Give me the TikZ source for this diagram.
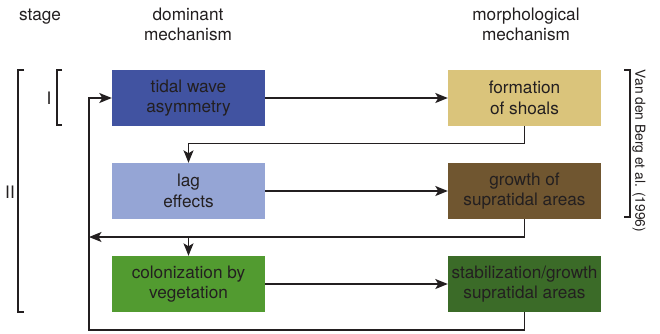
\documentclass[tikz,border=0pt]{standalone}
\usepackage{fontspec}
\setmainfont{TeX Gyre Heros}
\usetikzlibrary{arrows.meta}
\definecolor{txt}{HTML}{231F20}
\definecolor{cTidal}{HTML}{4153A1}
\definecolor{cLag}{HTML}{95A5D5}
\definecolor{cForm}{HTML}{DAC47B}
\definecolor{cGrowth}{HTML}{705630}
\definecolor{cColon}{HTML}{529B30}
\definecolor{cStab}{HTML}{3B6B28}
\begin{document}
\begin{tikzpicture}[x=1pt,y=-1pt,
  box/.style={draw=none, minimum width=153pt, minimum height=56pt, inner sep=0pt,
    align=center, font=\fontsize{17.2}{20.5}\selectfont, text=txt},
  conn/.style={draw=txt, line width=1.3pt},
  arr/.style={conn, -{Stealth[length=12.5pt,width=10pt,inset=3pt]}},
  lbl/.style={font=\fontsize{17.2}{20.5}\selectfont, text=txt, inner sep=0pt},
  brk/.style={draw=txt, line width=1.2pt}]
\useasboundingbox[fill=white] (0,0) rectangle (660,333);

% headers
\node[lbl, anchor=base] (hstage) at (40,20.5) {stage};
\node[lbl, anchor=base] (hdomA) at (188,20.5) {dominant};
\node[lbl, anchor=base] (hdomB) at (188,40.5) {mechanism};
\node[lbl, anchor=base] (hmorA) at (526,20.5) {morphological};
\node[lbl, anchor=base] (hmorB) at (526,40.5) {mechanism};

% boxes
\node[box, fill=cTidal] (tidal) at (188.5,98) {tidal wave\\asymmetry};
\node[box, fill=cForm] (form) at (524.5,98) {formation\\of shoals};
\node[box, fill=cLag] (lag) at (188.5,191) {lag\\effects};
\node[box, fill=cGrowth] (growth) at (524.5,191) {growth of\\supratidal areas};
\node[box, fill=cColon] (colon) at (188.5,284) {colonization by\\vegetation};
\node[box, fill=cStab] (stab) at (524.5,284) {stabilization/growth\\supratidal areas};

% return coordinates
\coordinate (retA) at (89,237);
\coordinate (retB) at (89,330);

% connectors
\draw[arr] (tidal.east) -- (form.west);
\draw[arr] (form.south) -- ++(0,17) -| (lag.north);
\draw[arr] (lag.east) -- (growth.west);
\draw[arr] (growth.south) |- (retA);
\draw[arr] (lag.south |- retA) -- (colon.north);
\draw[arr] (colon.east) -- (stab.west);
\draw[arr] (stab.south) |- (retB) |- (tidal.west);

% stage brackets
\draw[brk] (62,70) -- (57,70) -- (57,125) -- (62,125);
\node[lbl] (stI) at (49,98) {I};
\draw[brk] (24,70) -- (18,70) -- (18,312) -- (24,312);
\node[lbl] (stII) at (10,192) {II};

% reference bracket
\draw[brk] (624,70) -- (630,70) -- (630,217) -- (624,217);
\node[rotate=-90, font=\fontsize{13.8}{16}\selectfont, text=txt, inner sep=0pt] (ref) at (639,151) {Van den Berg et al. (1996)};
\end{tikzpicture}
\end{document}
